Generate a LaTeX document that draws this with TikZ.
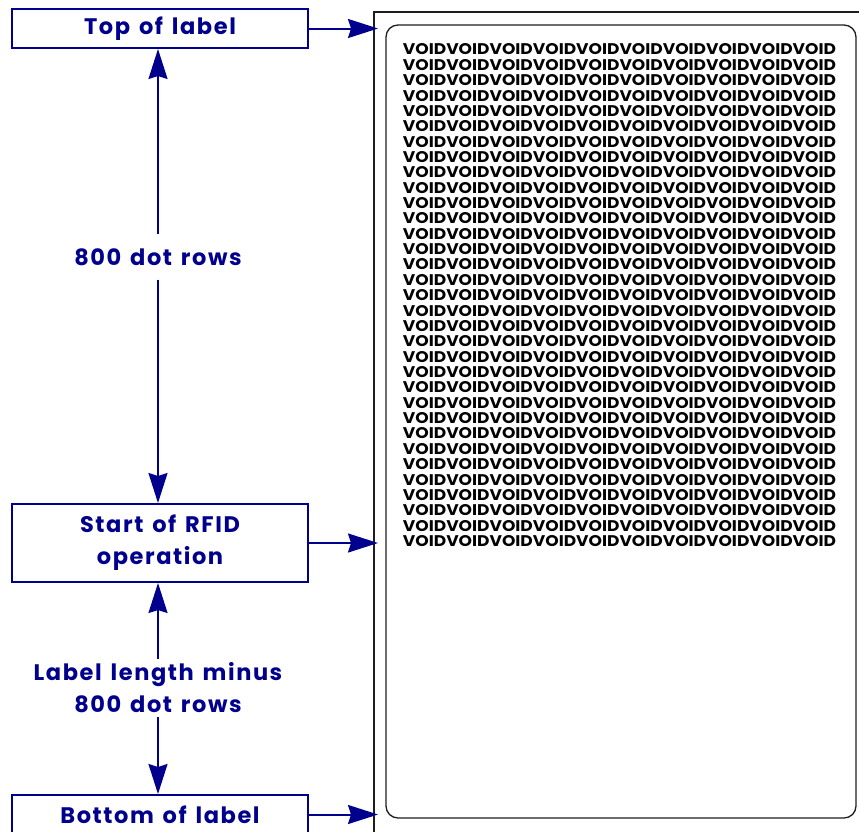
\documentclass[tikz,border=0pt]{standalone}
\usepackage{fontspec}
\usepackage{graphicx}
\usetikzlibrary{positioning, arrows.meta}
\newfontfamily\calloutfont[LetterSpace=7, WordSpace=1.4]{Poppins}
\newfontfamily\voidfont{Poppins}
\definecolor{labelnavy}{RGB}{0, 0, 140}
\definecolor{stockgray}{RGB}{30, 30, 30}
\newcommand{\voidrow}{VOIDVOIDVOIDVOIDVOIDVOIDVOIDVOIDVOIDVOID}

\begin{document}
\begin{tikzpicture}[
    x=1pt, y=-1pt, % Work in pixel-like units, y grows downwards
    >={Stealth[length=30pt, width=19pt, inset=3pt]}, % Arrow tip style
    markbox/.style={ % Style for the navy position boxes
        rectangle,
        draw=labelnavy,
        line width=2pt,
        minimum width=296pt,
        minimum height=39pt,
        text=labelnavy,
        align=center,
        font=\calloutfont\bfseries\fontsize{22.5}{32}\selectfont
    },
    % Style for the span labels between the boxes
    spanlabel/.style={
        text=labelnavy,
        align=center,
        inner xsep=2pt,
        font=\calloutfont\bfseries\fontsize{22.5}{32}\selectfont
    },
    % Arrow style
    arrow/.style={
        ->,
        line width=2pt,
        draw=labelnavy,
        fill=labelnavy
    },
    % Style for the label stock outlines
    stock/.style={
        draw=stockgray,
        line width=1.3pt
    },
    % Style for one row of the VOID pattern
    voidtext/.style={
        inner sep=0pt,
        font=\voidfont\bfseries
    }
]
\useasboundingbox (0,0) rectangle (859,831);

% Position boxes
\node[markbox] (top) at (160,28.5) {Top of label};
\node[markbox, minimum height=78pt] (rfid) at (160,543) {Start of RFID\\operation};
\node[markbox] (bottom) at (160,814.5) {Bottom of label};

% Span labels
\node[spanlabel, inner ysep=14pt] (rows1) at (158,257) {800 dot rows};
\node[spanlabel, inner ysep=4pt] (rows2) at (158,688) {Label length minus\\800 dot rows};

% Label stock: liner and the label itself
\draw[stock] (374,840) -- (374,12) -- (870,12);
\draw[stock, rounded corners=12pt] (386,25) rectangle (856,818);
\coordinate (edge) at (378,0);

% VOID pattern rows
\foreach \r in {0,...,32} {
    \node[voidtext] (v\r) at (619.5,{49.5+\r*15.36}) {\resizebox{433pt}{11pt}{\voidrow}};
}

% Arrows into the label
\draw[arrow] (top.east) -- (top.east -| edge);
\draw[arrow] (rfid.east) -- (rfid.east -| edge);
\draw[arrow] (bottom.east) -- (bottom.east -| edge);

% Span arrows
\draw[arrow] (rows1.north) -- (rows1 |- top.south);
\draw[arrow] (rows1.south) -- (rows1 |- rfid.north);
\draw[arrow] (rows2.north) -- (rows2 |- rfid.south);
\draw[arrow] (rows2.south) -- (rows2 |- bottom.north);

\end{tikzpicture}
\end{document}
